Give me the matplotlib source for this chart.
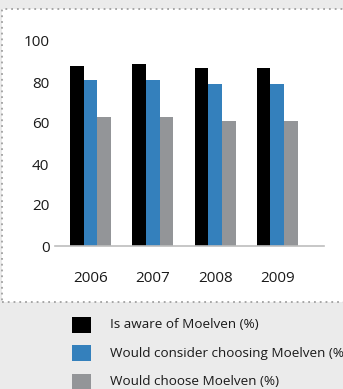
import numpy as np
import matplotlib
matplotlib.use('Agg')
import matplotlib.pyplot as plt
from matplotlib.patches import Rectangle

# Datos
years = ['2006', '2007', '2008', '2009']
aware = [88, 89, 87, 87]
consider = [81, 81, 79, 79]
choose = [63, 63, 61, 61]
series_names = ['Is aware of Moelven (%)',
                'Would consider choosing Moelven (%)',
                'Would choose Moelven (%)']
colors = ['#000000', '#3480bc', '#939598']

W, H = 343, 389
plt.rcParams['font.family'] = ['Open Sans', 'DejaVu Sans']

fig = plt.figure(figsize=(W / 100, H / 100), dpi=100)
fig.patch.set_facecolor('#ebebeb')

# panel blanco con borde punteado
panel = Rectangle((1.5 / W, 1 - 302 / H), (W + 10) / W, (302 - 9) / H,
                  transform=fig.transFigure, facecolor='white',
                  edgecolor='#a0a0a0', linestyle=(0, (1, 2.2)), linewidth=1.3,
                  clip_on=False, zorder=-5)
fig.patches.append(panel)

ax = fig.add_axes([55 / W, (H - 246) / H, (324 - 55) / W, (246 - 41) / H])
ax.set_facecolor('none')
ax.set_zorder(1)

x = np.arange(len(years))
w = 0.22
for i, (vals, c) in enumerate(zip([aware, consider, choose], colors)):
    ax.bar(x + (i - 1) * w, vals, w, color=c, zorder=2)

ax.set_xlim(-0.573, 3.75)
ax.set_ylim(0, 100)
ax.set_yticks([0, 20, 40, 60, 80, 100])
ax.set_xticks(x)
ax.set_xticklabels(years)
ax.tick_params(length=0, labelsize=11, colors='#1a1a1a')
ax.tick_params(axis='y', pad=4)
ax.tick_params(axis='x', pad=18)
for s in ['top', 'right', 'left']:
    ax.spines[s].set_visible(False)
ax.spines['bottom'].set_color('#bdbdbd')
ax.spines['bottom'].set_linewidth(1.2)

# leyenda
for k, (name, c) in enumerate(zip(series_names, colors)):
    yc = 325 + k * 28.3
    fig.patches.append(Rectangle((72 / W, 1 - (yc + 8) / H), 19 / W, 16 / H,
                                 transform=fig.transFigure, facecolor=c,
                                 edgecolor='none'))
    fig.text(110 / W, 1 - yc / H, name, fontsize=9.7, va='center', ha='left',
             color='#1a1a1a')

fig.savefig('out.png', dpi=100, facecolor=fig.get_facecolor())
